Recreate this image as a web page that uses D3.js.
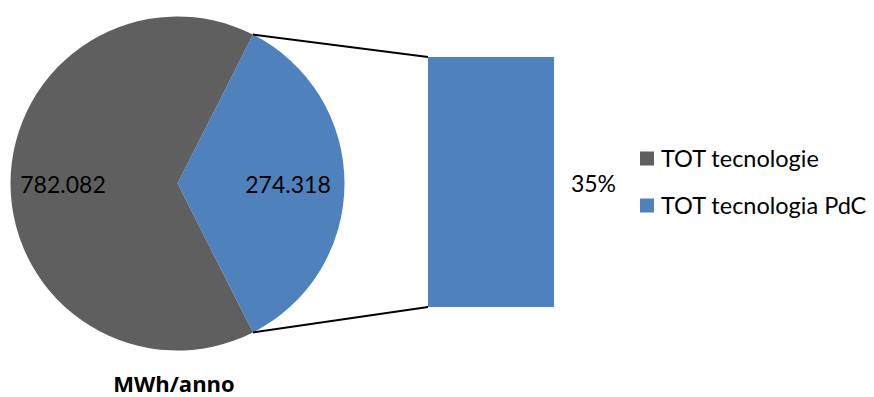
<!DOCTYPE html>
<html>
<head>
<meta charset="utf-8">
<script src="https://cdn.jsdelivr.net/npm/d3@7"></script>
<style>
  html, body { margin: 0; padding: 0; background: #ffffff; }
  svg { display: block; font-family: Lato, "Open Sans", sans-serif; }
</style>
</head>
<body>
<svg id="chart" width="874" height="397"></svg>
<script>
// Energy totals (MWh/anno)
const categories = ["TOT tecnologie", "TOT tecnologia PdC"];
const totals = [782.082, 274.318];
const valueLabels = ["782.082", "274.318"];
const barShareLabels = ["35%"];
const axisTitle = "MWh/anno";
const colors = ["#5f5f5f", "#4f81bd"];

const svg = d3.select("#chart");

// ---- pie ----
const cx = 177.5, cy = 183.5, R = 167;
const total = totals[0], part = totals[1];
const partShare = part / total;
const partAngle = partShare * 2 * Math.PI;

// the PdC slice is centred on the right-hand side, facing the bar
const pieData = [
  { key: categories[1], value: part, color: colors[1], label: valueLabels[1] },
  { key: categories[0], value: total - part, color: colors[0], label: valueLabels[0] }
];
const pie = d3.pie().sort(null).value(d => d.value)
  .startAngle(Math.PI / 2 - partAngle / 2)
  .endAngle(Math.PI / 2 - partAngle / 2 + 2 * Math.PI);
const arcs = pie(pieData);
const arc = d3.arc().innerRadius(0).outerRadius(R);

const gPie = svg.append("g").attr("transform", `translate(${cx},${cy})`);
gPie.selectAll("path").data(arcs).join("path")
  .attr("d", arc)
  .attr("fill", d => d.data.color);

// ---- bar (second plot) ----
const barX = d3.scaleBand().domain(["PdC"]).range([428, 554]).padding(0);
const barY = d3.scaleLinear().domain([0, part]).range([307, 57]);
const gBar = svg.append("g");
gBar.selectAll("rect").data([part]).join("rect")
  .attr("x", barX("PdC"))
  .attr("width", barX.bandwidth())
  .attr("y", d => barY(d))
  .attr("height", d => barY(0) - barY(d))
  .attr("fill", colors[1]);

// ---- connector lines from slice edges to bar corners ----
const a0 = arcs[0].startAngle, a1 = arcs[0].endAngle;
const pt = a => [cx + R * Math.sin(a), cy - R * Math.cos(a)];
const p0 = pt(a0), p1 = pt(a1);
const connectors = [
  [p0, [barX("PdC"), barY(part)]],
  [p1, [barX("PdC"), barY(0)]]
];
svg.append("g").selectAll("line").data(connectors).join("line")
  .attr("x1", d => d[0][0]).attr("y1", d => d[0][1])
  .attr("x2", d => d[1][0]).attr("y2", d => d[1][1])
  .attr("stroke", "#000000")
  .attr("stroke-width", 2);

// ---- data labels ----
const labelPos = {};
labelPos[categories[0]] = [63, 193];
labelPos[categories[1]] = [288, 193];
svg.append("g").selectAll("text").data(arcs).join("text")
  .attr("x", d => labelPos[d.data.key][0])
  .attr("y", d => labelPos[d.data.key][1])
  .attr("text-anchor", "middle")
  .attr("font-size", 23)
  .attr("fill", "#000000")
  .text(d => d.data.label);

svg.append("text")
  .attr("x", 593.5).attr("y", 192)
  .attr("text-anchor", "middle")
  .attr("font-size", 23)
  .attr("fill", "#000000")
  .text(barShareLabels[0]);

// ---- title under the pie ----
svg.append("text")
  .attr("x", 174).attr("y", 392)
  .attr("text-anchor", "middle")
  .attr("font-family", "'Open Sans', sans-serif")
  .attr("font-size", 22)
  .attr("font-weight", "bold")
  .attr("fill", "#000000")
  .text(axisTitle);

// ---- legend ----
const legendY = [158.5, 205.5];
const legend = svg.append("g");
const items = legend.selectAll("g").data(categories).join("g")
  .attr("transform", (d, i) => `translate(640,${legendY[i]})`);
items.append("rect")
  .attr("x", 0).attr("y", -7)
  .attr("width", 14).attr("height", 14)
  .attr("fill", (d, i) => colors[i]);
items.append("text")
  .attr("x", 21).attr("y", 8)
  .attr("font-size", 23.5)
  .attr("fill", "#000000")
  .text(d => d);
</script>
</body>
</html>
